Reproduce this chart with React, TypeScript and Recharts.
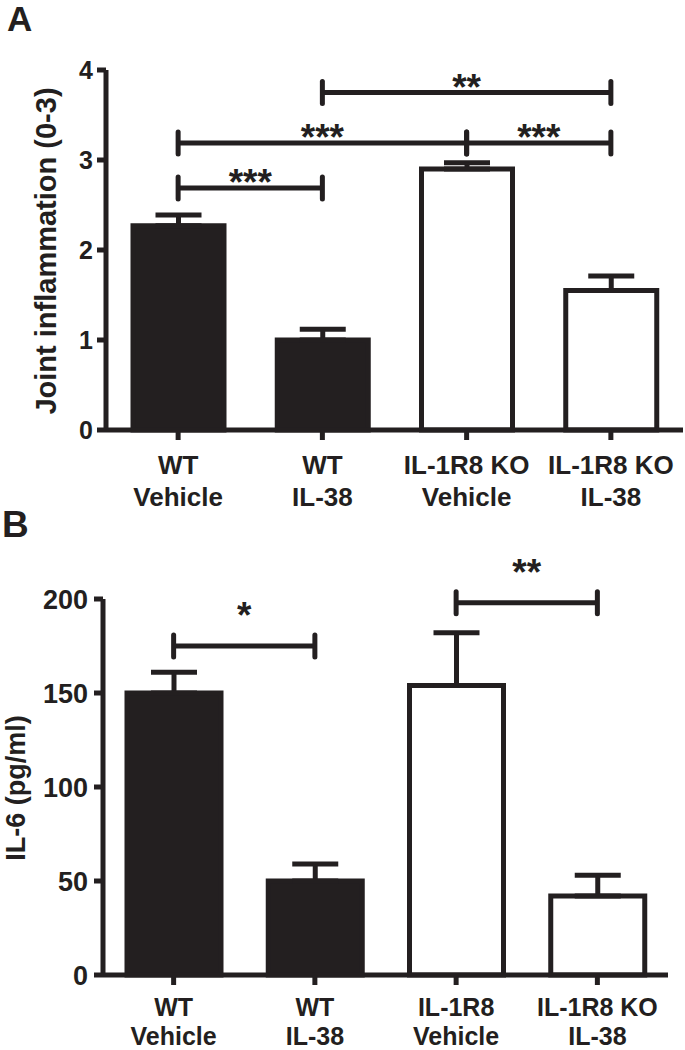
import React from 'react';
import {
  BarChart,
  Bar,
  XAxis,
  YAxis,
  ErrorBar,
  Cell,
  ReferenceLine,
} from 'recharts';

const INK = '#231f20';
const FONT = '"Liberation Sans", Arial, Helvetica, sans-serif';

// Panel A — joint inflammation score
const topLabelsA = ['WT', 'WT', 'IL-1R8 KO', 'IL-1R8 KO'];
const bottomLabelsA = ['Vehicle', 'IL-38', 'Vehicle', 'IL-38'];
const meansA = [2.27, 1.0, 2.9, 1.55];
const semA = [0.12, 0.12, 0.07, 0.16];
const ticksA = [0, 1, 2, 3, 4];

// Panel B — IL-6
const topLabelsB = ['WT', 'WT', 'IL-1R8', 'IL-1R8 KO'];
const bottomLabelsB = ['Vehicle', 'IL-38', 'Vehicle', 'IL-38'];
const meansB = [150, 50, 154, 42];
const semB = [11, 9, 28, 11];
const ticksB = [0, 50, 100, 150, 200];

const filled = [true, true, false, false];

// significance brackets: from group, to group, height (data units), stars
const sigA = [
  { from: 0, to: 1, y: 2.69, stars: '***' },
  { from: 0, to: 2, y: 3.19, stars: '***' },
  { from: 2, to: 3, y: 3.19, stars: '***' },
  { from: 1, to: 3, y: 3.75, stars: '**' },
];
const sigB = [
  { from: 0, to: 1, y: 175, stars: '*' },
  { from: 2, to: 3, y: 198, stars: '**' },
];

const build = (tops: string[], bottoms: string[], means: number[], sems: number[]) =>
  tops.map((t, i) => ({
    name: `${t} ${bottoms[i]}`,
    top: t,
    bottom: bottoms[i],
    mean: means[i],
    err: [0, sems[i]],
  }));

const dataA = build(topLabelsA, bottomLabelsA, meansA, semA);
const dataB = build(topLabelsB, bottomLabelsB, meansB, semB);

function makeTick(tops: string[], bottoms: string[], fontSize: number, dy1: number, dy2: number) {
  return (props: any) => {
    const { x, y, payload } = props;
    const i = payload?.index ?? props.index ?? 0;
    return (
      <g>
        <text x={x} y={y} dy={dy1} textAnchor="middle" fill={INK} fontSize={fontSize} fontWeight={700} fontFamily={FONT}>
          {tops[i]}
        </text>
        <text x={x} y={y} dy={dy2} textAnchor="middle" fill={INK} fontSize={fontSize} fontWeight={700} fontFamily={FONT}>
          {bottoms[i]}
        </text>
      </g>
    );
  };
}

function bracket(stars: string, starDy: number) {
  return (p: any) => {
    const { x1, y1, x2 } = p;
    return (
      <g>
        <line x1={x1} y1={y1} x2={x2} y2={y1} stroke={INK} strokeWidth={5} />
        <line x1={x1} y1={y1 - 11} x2={x1} y2={y1 + 11} stroke={INK} strokeWidth={5} strokeLinecap="round" />
        <line x1={x2} y1={y1 - 11} x2={x2} y2={y1 + 11} stroke={INK} strokeWidth={5} strokeLinecap="round" />
        <text x={(x1 + x2) / 2} y={y1 + starDy} textAnchor="middle" fill={INK} fontSize={37} fontWeight={700} fontFamily={FONT}>
          {stars}
        </text>
      </g>
    );
  };
}

interface PanelProps {
  data: ReturnType<typeof build>;
  width: number;
  height: number;
  margin: { top: number; right: number; bottom: number; left: number };
  yWidth: number;
  xHeight: number;
  domain: [number, number];
  ticks: number[];
  yFont: number;
  tickMargin: number;
  barSize: number;
  tick: (p: any) => React.ReactElement;
  sig: { from: number; to: number; y: number; stars: string }[];
  starDy: number;
}

function Panel(p: PanelProps) {
  return (
    <BarChart width={p.width} height={p.height} data={p.data} margin={p.margin}>
      <XAxis
        dataKey="name"
        height={p.xHeight}
        axisLine={{ stroke: INK, strokeWidth: 5 }}
        tickLine={{ stroke: INK, strokeWidth: 5 }}
        tickSize={10}
        interval={0}
        tick={p.tick}
      />
      <YAxis
        width={p.yWidth}
        domain={p.domain}
        ticks={p.ticks}
        interval={0}
        axisLine={{ stroke: INK, strokeWidth: 5 }}
        tickLine={{ stroke: INK, strokeWidth: 5 }}
        tickSize={9}
        tickMargin={p.tickMargin}
        tick={{ fill: INK, fontSize: p.yFont, fontWeight: 700, fontFamily: FONT }}
      />
      <Bar dataKey="mean" barSize={p.barSize} stroke={INK} strokeWidth={5} isAnimationActive={false}>
        {p.data.map((d, i) => (
          <Cell key={d.name} fill={filled[i] ? INK : '#ffffff'} />
        ))}
        <ErrorBar dataKey="err" width={23} stroke={INK} strokeWidth={5} direction="y" />
      </Bar>
      {p.sig.map((s, i) => (
        <ReferenceLine
          key={i}
          ifOverflow="visible"
          segment={[
            { x: p.data[s.from].name, y: s.y },
            { x: p.data[s.to].name, y: s.y },
          ]}
          shape={bracket(s.stars, p.starDy)}
        />
      ))}
    </BarChart>
  );
}

export default function App() {
  return (
    <div style={{ position: 'absolute', left: 0, top: 0, width: 685, height: 1050, background: '#fff', overflow: 'hidden' }}>
      <div style={{ position: 'absolute', left: 0, top: 0 }}>
        <Panel
          data={dataA}
          width={685}
          height={518}
          margin={{ top: 70, right: 2, bottom: 0, left: 0 }}
          yWidth={106}
          xHeight={88}
          domain={[0, 4]}
          ticks={ticksA}
          yFont={25}
          tickMargin={4}
          barSize={91}
          tick={makeTick(topLabelsA, bottomLabelsA, 26, 32, 64)}
          sig={sigA}
          starDy={7}
        />
      </div>
      <div style={{ position: 'absolute', left: 0, top: 520 }}>
        <Panel
          data={dataB}
          width={685}
          height={530}
          margin={{ top: 79, right: 17, bottom: 0, left: 0 }}
          yWidth={103}
          xHeight={75}
          domain={[0, 200]}
          ticks={ticksB}
          yFont={27}
          tickMargin={6}
          barSize={94}
          tick={makeTick(topLabelsB, bottomLabelsB, 25, 29, 58)}
          sig={sigB}
          starDy={-18}
        />
      </div>
      <svg width={685} height={1050} style={{ position: 'absolute', left: 0, top: 0, pointerEvents: 'none' }}>
        <text x={7} y={31} fill={INK} fontSize={35} fontWeight={700} fontFamily={FONT}>A</text>
        <text x={2} y={537} fill={INK} fontSize={37} fontWeight={700} fontFamily={FONT}>B</text>
        <text transform="translate(56,251) rotate(-90)" textAnchor="middle" fill={INK} fontSize={29} fontWeight={700} fontFamily={FONT}>
          Joint inflammation (0-3)
        </text>
        <text transform="translate(25,788) rotate(-90)" textAnchor="middle" fill={INK} fontSize={27} fontWeight={700} fontFamily={FONT}>
          IL-6 (pg/ml)
        </text>
      </svg>
    </div>
  );
}
